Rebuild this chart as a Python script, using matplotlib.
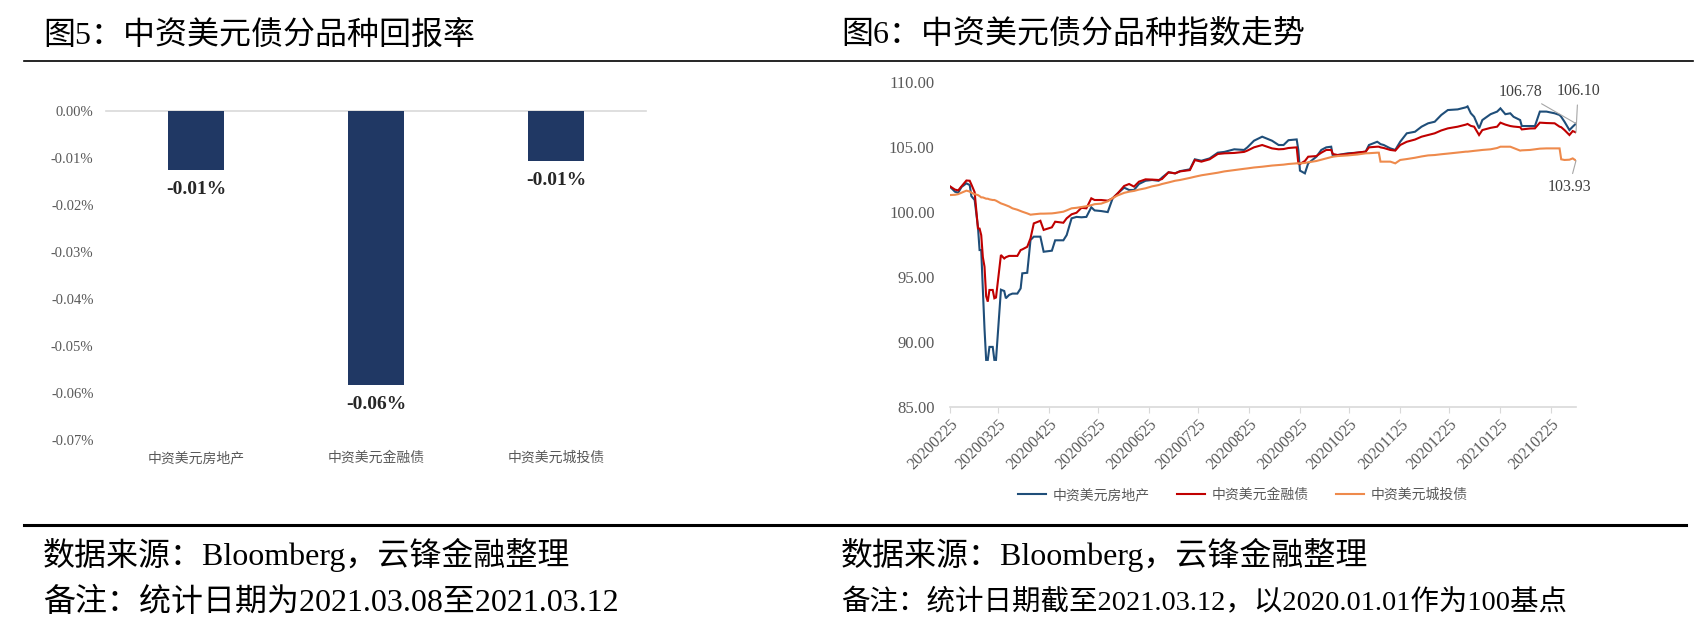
import matplotlib
matplotlib.use('Agg')
import matplotlib.pyplot as plt
import matplotlib.dates as mdates
from matplotlib.lines import Line2D
import pandas as pd

# ---------------- data ----------------
bar_categories = ['中资美元房地产', '中资美元金融债', '中资美元城投债']
bar_returns_pct = [-0.0126, -0.0584, -0.0108]
bar_yticks_pct = [-0.07, -0.06, -0.05, -0.04, -0.03, -0.02, -0.01, 0.0]

series_names = ['中资美元房地产', '中资美元金融债', '中资美元城投债']
index_start = '2020-02-25'
index_day_offsets = [
    0, 3, 5, 7, 10, 12, 13, 15, 17, 18, 19, 20, 21, 22, 23, 24, 26, 27, 28, 31,
    33, 34, 36, 38, 41, 43, 44, 47, 49, 51, 55, 57, 62, 64, 69, 71, 74, 77, 80, 83,
    86, 88, 92, 96, 99, 102, 106, 109, 112, 115, 119, 123, 127, 129, 133, 137, 140, 146, 149, 153,
    158, 163, 167, 173, 179, 181, 185, 190, 196, 200, 203, 206, 211, 212, 213, 216, 218, 223, 226, 229,
    232, 233, 236, 242, 248, 253, 255, 260, 261, 262, 264, 268, 271, 274, 278, 283, 287, 291, 295, 299,
    303, 309, 314, 315, 317, 319, 322, 324, 329, 333, 335, 338, 341, 343, 347, 348, 353, 356, 359, 363,
    368, 371, 372, 374, 377, 379, 381]
idx_property = [
    101.92, 101.54, 101.46, 101.90, 102.18, 102.05, 101.20, 100.90, 98.85, 97.05, 97.05, 94.00, 91.00, 88.60, 88.60, 89.60, 89.60, 88.60, 88.60, 94.00,
    93.90, 93.34, 93.60, 93.70, 93.70, 94.10, 95.26, 95.30, 97.82, 98.08, 98.08, 96.92, 97.00, 97.80, 97.80, 98.20, 99.49, 99.60, 99.57, 99.60,
    100.34, 100.10, 100.05, 99.97, 101.03, 101.40, 101.85, 101.67, 101.67, 102.13, 102.38, 102.44, 102.38, 102.62, 103.03, 102.95, 103.12, 103.26, 104.03, 103.92,
    104.10, 104.54, 104.60, 104.80, 104.75, 104.95, 105.46, 105.77, 105.46, 105.13, 105.13, 105.50, 105.56, 104.75, 103.16, 102.95, 103.72, 104.23, 104.75, 104.95,
    105.00, 104.28, 104.36, 104.49, 104.54, 104.62, 105.13, 105.38, 105.30, 105.20, 105.13, 104.87, 104.75, 105.38, 106.03, 106.15, 106.54, 106.80, 106.92, 107.44,
    107.82, 107.87, 108.03, 108.10, 107.57, 107.30, 106.41, 107.05, 107.50, 107.70, 107.95, 107.50, 107.57, 107.30, 107.05, 106.59, 106.59, 106.59, 107.70, 107.70,
    107.57, 107.44, 107.30, 106.92, 106.28, 106.54, 106.78]
idx_financial = [
    101.95, 101.70, 101.64, 101.95, 102.40, 102.38, 102.10, 101.50, 98.72, 98.70, 98.20, 96.50, 95.77, 93.50, 93.08, 93.98, 93.98, 93.34, 93.40, 96.67,
    96.40, 96.50, 96.60, 96.60, 96.60, 97.05, 97.10, 97.30, 97.95, 99.10, 99.30, 98.60, 98.80, 99.23, 99.15, 99.49, 99.80, 99.92, 100.30, 100.26,
    101.03, 100.90, 100.90, 100.85, 101.03, 101.40, 101.98, 102.13, 101.93, 102.31, 102.49, 102.47, 102.44, 102.51, 103.03, 102.95, 103.10, 103.20, 103.97, 103.85,
    104.03, 104.44, 104.49, 104.52, 104.60, 104.70, 104.95, 105.13, 104.87, 104.80, 104.82, 104.90, 104.95, 103.72, 103.67, 103.90, 104.23, 104.28, 104.54, 104.75,
    104.75, 104.44, 104.36, 104.44, 104.55, 104.62, 104.95, 105.00, 105.00, 104.95, 104.90, 104.75, 104.70, 105.13, 105.38, 105.55, 105.77, 105.90, 106.03, 106.25,
    106.41, 106.54, 106.70, 106.75, 106.60, 106.54, 105.90, 106.28, 106.45, 106.54, 106.85, 106.70, 106.59, 106.55, 106.50, 106.33, 106.40, 106.41, 106.85, 106.82,
    106.80, 106.54, 106.50, 106.28, 105.90, 106.20, 106.10]
idx_lgfv = [
    101.28, 101.30, 101.35, 101.46, 101.62, 101.55, 101.46, 101.35, 101.28, 101.20, 101.10, 101.10, 101.05, 101.00, 101.00, 100.95, 100.90, 100.90, 100.85, 100.64,
    100.55, 100.50, 100.40, 100.26, 100.15, 100.05, 100.00, 99.87, 99.77, 99.80, 99.85, 99.85, 99.87, 99.90, 100.00, 100.10, 100.26, 100.30, 100.36, 100.42,
    100.50, 100.58, 100.62, 100.80, 101.05, 101.25, 101.45, 101.54, 101.60, 101.70, 101.80, 101.95, 102.05, 102.13, 102.25, 102.38, 102.44, 102.60, 102.69, 102.80,
    102.90, 103.00, 103.10, 103.20, 103.30, 103.33, 103.40, 103.46, 103.55, 103.59, 103.62, 103.67, 103.72, 103.72, 103.72, 103.75, 103.80, 103.90, 104.00, 104.10,
    104.20, 104.23, 104.28, 104.33, 104.40, 104.49, 104.50, 104.54, 104.54, 103.85, 103.85, 103.85, 103.72, 103.98, 104.05, 104.15, 104.25, 104.33, 104.36, 104.42,
    104.47, 104.55, 104.62, 104.62, 104.65, 104.68, 104.72, 104.75, 104.80, 104.90, 105.00, 105.00, 105.00, 104.90, 104.70, 104.72, 104.75, 104.80, 104.85, 104.87,
    104.87, 104.87, 104.03, 103.98, 104.00, 104.10, 103.93]
index_yticks = [85, 90, 95, 100, 105, 110]
index_xtick_dates = ['2020-02-25', '2020-03-25', '2020-04-25', '2020-05-25', '2020-06-25',
                     '2020-07-25', '2020-08-25', '2020-09-25', '2020-10-25', '2020-11-25',
                     '2020-12-25', '2021-01-25', '2021-02-25']

titles = ['图5：中资美元债分品种回报率', '图6：中资美元债分品种指数走势']
sources = ['数据来源：Bloomberg，云锋金融整理', '数据来源：Bloomberg，云锋金融整理']
notes = ['备注：统计日期为2021.03.08至2021.03.12', '备注：统计日期截至2021.03.12，以2020.01.01作为100基点']

# ---------------- style ----------------
SERIF_CJK = ['Liberation Serif', 'Noto Sans CJK SC']
CJK = ['Noto Sans CJK SC', 'DejaVu Sans']
GREY = '#595959'
BAR_COLOR = '#203864'
LINE_COLORS = ['#1F4E79', '#C00000', '#EE8A4C']

W, H = 1701, 631
fig = plt.figure(figsize=(W / 100, H / 100), dpi=100)


def fx(x):
    return x / W


def fy(y):
    return 1 - y / H


def axes_px(x0, y0, x1, y1):
    return fig.add_axes([fx(x0), fy(y1), (x1 - x0) / W, (y1 - y0) / H])


# ---------------- left: bar chart ----------------
axb = axes_px(106, 110.5, 646, 440)
xpos = list(range(len(bar_categories)))
bars = axb.bar(xpos, bar_returns_pct, width=0.31, color=BAR_COLOR, zorder=2)
axb.set_xlim(-0.5, len(bar_categories) - 0.5)
axb.set_ylim(min(bar_yticks_pct), max(bar_yticks_pct))
axb.axhline(0, color='#D9D9D9', lw=1.2, zorder=1, clip_on=False)
for s in axb.spines.values():
    s.set_visible(False)
axb.set_yticks(bar_yticks_pct)
axb.set_yticklabels([f'{abs(v):.2f}%' if round(v, 4) == 0 else f'{v:.2f}%' for v in bar_yticks_pct],
                    family='Liberation Serif', fontsize=10.5, color=GREY)
axb.set_xticks(xpos)
axb.set_xticklabels(bar_categories, family=CJK, fontsize=10, color=GREY)
axb.tick_params(axis='y', length=0, pad=9)
axb.tick_params(axis='x', length=0, pad=8)
for xi, v in zip(xpos, bar_returns_pct):
    axb.annotate(f'{v:.2f}%', xy=(xi, v), xytext=(0, -14), textcoords='offset points',
                 ha='center', va='center', family='Liberation Serif', fontweight='bold',
                 fontsize=14, color='#262626')

# ---------------- right: line chart ----------------
axl = axes_px(950, 81.7, 1576, 406.7)
dates = pd.Timestamp(index_start) + pd.to_timedelta(index_day_offsets, unit='D')
lines = []
for vals, c, name in zip([idx_property, idx_financial, idx_lgfv], LINE_COLORS, series_names):
    ln, = axl.plot(dates, vals, color=c, lw=1.5, label=name, solid_joinstyle='miter')
    lines.append(ln)
axl.set_xlim(dates[0], dates[-1])
axl.set_ylim(min(index_yticks), max(index_yticks))
axl.set_yticks(index_yticks)
axl.set_yticklabels([f'{v:.2f}' for v in index_yticks], family='Liberation Serif',
                    fontsize=12, color=GREY)
for k in ['top', 'right', 'left']:
    axl.spines[k].set_visible(False)
axl.spines['bottom'].set_color('#D9D9D9')
axl.spines['bottom'].set_linewidth(1.2)
axl.set_xticks(pd.to_datetime(index_xtick_dates))
axl.xaxis.set_major_formatter(mdates.DateFormatter('%Y%m%d'))
for lab in axl.get_xticklabels():
    lab.set_rotation(45)
    lab.set_ha('right')
    lab.set_rotation_mode('anchor')
    lab.set_family('Liberation Serif')
    lab.set_fontsize(11.5)
    lab.set_color(GREY)
axl.tick_params(axis='x', length=4, color='#D9D9D9', pad=3)
axl.tick_params(axis='y', length=0, pad=11)

# end labels with leader lines
end_vals = [idx_property[-1], idx_financial[-1], idx_lgfv[-1]]
offsets = [(-40, 23), (1.5, 29.5), (-5, -19)]
for v, off in zip(end_vals, offsets):
    axl.annotate(f'{v:.2f}', xy=(dates[-1], v), xytext=off, textcoords='offset points',
                 ha='center', va='center', family='Liberation Serif', fontsize=11.5,
                 color='#404040', annotation_clip=False,
                 arrowprops=dict(arrowstyle='-', color='#A6A6A6', lw=0.8,
                                 shrinkA=2, shrinkB=0))

fig.legend(lines, series_names, loc='center', bbox_to_anchor=(fx(1243), fy(495)), ncol=3,
           frameon=False, prop={'family': CJK, 'size': 10}, labelcolor=GREY,
           handlelength=2.0, handletextpad=0.45, columnspacing=2.0)

# ---------------- titles, rules, footnotes ----------------
fig.add_artist(Line2D([fx(24), fx(1693)], [fy(61), fy(61)], color='black', lw=1.2))
fig.add_artist(Line2D([fx(24), fx(1686)], [fy(525), fy(525)], color='black', lw=2.2))
for x0, t, s, n, ns in zip([43, 841], titles, sources, notes, [23, 20.5]):
    fig.text(fx(x0), fy(36), t, family=SERIF_CJK, fontsize=23, va='center', ha='left')
    fig.text(fx(x0), fy(555), s, family=SERIF_CJK, fontsize=23, va='center', ha='left')
    fig.text(fx(x0), fy(603), n, family=SERIF_CJK, fontsize=ns, va='center', ha='left')

fig.savefig('out.png', dpi=100, facecolor='white')
